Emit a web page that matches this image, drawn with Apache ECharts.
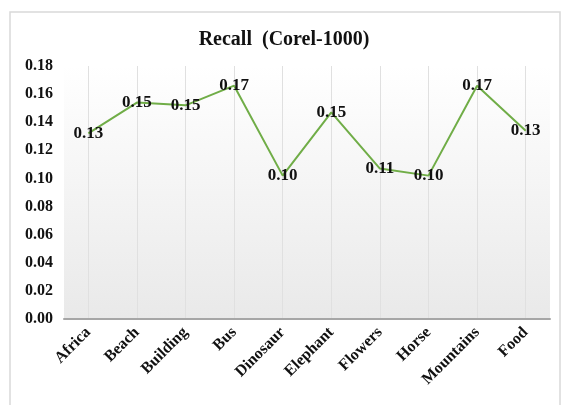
<!DOCTYPE html>
<html>
<head>
<meta charset="utf-8">
<script src="https://cdn.jsdelivr.net/npm/echarts@6/dist/echarts.min.js"></script>
<style>
  html, body { margin: 0; padding: 0; background: #fff; }
  #chart { width: 568px; height: 405px; }
</style>
</head>
<body>
<div id="chart"></div>
<script>
const categories = ["Africa", "Beach", "Building", "Bus", "Dinosaur", "Elephant", "Flowers", "Horse", "Mountains", "Food"];
const recall = [0.132, 0.154, 0.152, 0.166, 0.102, 0.147, 0.107, 0.102, 0.166, 0.134];
const yTicks = [0, 0.02, 0.04, 0.06, 0.08, 0.10, 0.12, 0.14, 0.16, 0.18];

const chart = echarts.init(document.getElementById("chart"));
const serif = "'Liberation Serif', 'DejaVu Serif', serif";

chart.setOption({
  animation: false,
  title: {
    text: "Recall  (Corel-1000)",
    left: "center",
    top: 25,
    textStyle: { fontFamily: serif, fontWeight: "bold", fontSize: 20, color: "#111" }
  },
  graphic: [{
    type: "rect",
    shape: { x: 10, y: 12, width: 550, height: 400 },
    style: { fill: "none", stroke: "#d9d9d9", lineWidth: 1.5 },
    silent: true
  }],
  grid: {
    left: 64, right: 18, top: 66, bottom: 86,
    show: true,
    borderWidth: 0,
    backgroundColor: new echarts.graphic.LinearGradient(0, 0, 0, 1, [
      { offset: 0, color: "#ffffff" },
      { offset: 1, color: "#e9e9e9" }
    ])
  },
  xAxis: {
    type: "category",
    data: categories,
    axisLine: { lineStyle: { color: "#a6a6a6", width: 2 } },
    axisTick: { show: false },
    splitLine: { show: true, alignWithLabel: true, lineStyle: { color: "#e0e0e0", width: 1 } },
    axisLabel: {
      rotate: 45,
      margin: 11,
      fontFamily: serif, fontWeight: "bold", fontSize: 16, color: "#111"
    }
  },
  yAxis: {
    type: "value",
    min: yTicks[0],
    max: yTicks[yTicks.length - 1],
    interval: 0.02,
    axisLine: { show: false },
    axisTick: { show: false },
    splitLine: { show: false },
    axisLabel: {
      margin: 11,
      formatter: v => v.toFixed(2),
      fontFamily: serif, fontWeight: "bold", fontSize: 16, color: "#111"
    }
  },
  series: [{
    type: "line",
    data: recall,
    showSymbol: true,
    symbol: "circle",
    symbolSize: 1,
    itemStyle: { color: "rgba(0,0,0,0)" },
    lineStyle: { color: "#70ad47", width: 2 },
    label: {
      show: true,
      position: "inside",
      formatter: p => p.value.toFixed(2),
      fontFamily: serif, fontWeight: "bold", fontSize: 17, color: "#111"
    }
  }]
});
</script>
</body>
</html>
